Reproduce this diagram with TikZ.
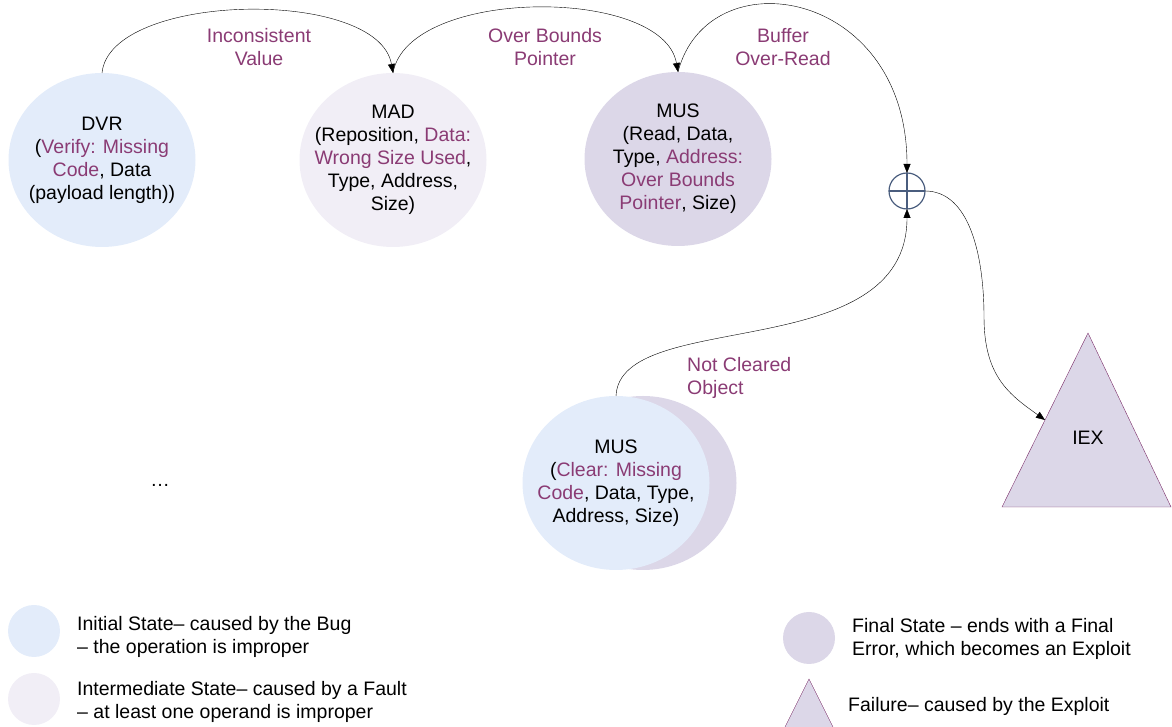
\documentclass[tikz,border=0pt]{standalone}
\usepackage{fontspec}
\setmainfont{Liberation Sans}
\usetikzlibrary{shapes.geometric,arrows.meta}
\definecolor{initfill}{HTML}{E3ECFA}
\definecolor{midfill}{HTML}{F1EEF6}
\definecolor{finfill}{HTML}{DCD7E8}
\definecolor{faultcol}{HTML}{8A3B74}
\definecolor{xorcol}{HTML}{4A5D7E}
\definecolor{failcol}{HTML}{7A2C68}
\newcommand{\flt}[1]{\textcolor{faultcol}{#1}}

\begin{document}
\begin{tikzpicture}[x=1pt,y=1pt, >={Triangle[length=9pt,width=7pt]},
  state/.style={ellipse,minimum width=187pt,minimum height=174pt,inner sep=0pt,outer sep=0pt},
  txt/.style={align=center,font=\fontsize{19.5}{23}\selectfont,inner sep=0pt},
  lbl/.style={txt,text=faultcol},
  key/.style={circle,minimum size=52pt,inner sep=0pt},
  keytxt/.style={align=left,anchor=west,font=\fontsize{19.5}{23}\selectfont,inner sep=0pt}]
\useasboundingbox (0,0) rectangle (1172,727);

% states
\node[state,fill=initfill] (dvr) at (102,567) {};
\node[txt] (dvr-t) at (dvr) {DVR\\(\flt{Verify: Missing}\\\flt{Code}, Data\\(payload length))};
\node[state,fill=midfill] (mad) at (393,567) {};
\node[txt] (mad-t) at (mad) {MAD\\(Reposition, \flt{Data:}\\\flt{Wrong Size Used},\\Type, Address,\\Size)};
\node[state,fill=finfill] (mus) at (678,568) {};
\node[txt] (mus-t) at (mus) {MUS\\(Read, Data,\\Type, \flt{Address:}\\\flt{Over Bounds}\\\flt{Pointer}, Size)};
\node[state,fill=finfill] (clr-b) at (643,244) {};
\node[state,fill=initfill] (clr) at (616,244) {};
\node[txt] (clr-t) at (clr) {MUS\\(\flt{Clear: Missing}\\\flt{Code}, Data, Type,\\Address, Size)};

\node[circle,draw=xorcol,line width=1.2pt,minimum size=36pt,inner sep=0pt,outer sep=0pt] (xor) at (907,536) {};
\draw[xorcol,line width=1.2pt] (xor.north) -- (xor.south) (xor.west) -- (xor.east);

% failure
\coordinate (iex-a) at (1088,394);
\coordinate (iex-l) at (1002,220);
\coordinate (iex-r) at (1171,220);
\coordinate (iex-in) at (1045,307);
\filldraw[fill=finfill,draw=failcol] (iex-a) -- (iex-l) -- (iex-r) -- cycle;
\node[txt] (iex) at (1088,289) {IEX};

\draw[->] (dvr.north) .. controls +(8,81) and +(-15,86) .. (mad.north);
\draw[->] (mad.north) .. controls +(15,86) and +(-15,86) .. (mus.north);
\draw[->] (mus.north) .. controls +(30,116) and +(0,185) .. (xor.north);
\draw[->] (clr.north) .. controls +(4,89) and +(0,-158) .. (xor.south);
\draw[->] (xor.east) .. controls +(45,0) and +(0,60) .. (984,410)
  .. controls +(0,-60) and +(-35,25) .. (iex-in);

\node[lbl] (l-incon) at (259,680) {Inconsistent\\Value};
\node[lbl] (l-obp) at (545,680) {Over Bounds\\Pointer};
\node[lbl] (l-bor) at (783,680) {Buffer\\Over-Read};
\node[lbl,anchor=west,align=left] (l-ncl) at (687,349) {Not Cleared\\Object};

\node[txt] (dots) at (160,242) {…};

% legend
\node[key,fill=initfill] (k-init) at (34,96) {};
\node[keytxt] (k-init-t) at (77,90.5) {Initial State– caused by the Bug\\– the operation is improper};
\node[key,fill=midfill] (k-mid) at (34,28) {};
\node[keytxt] (k-mid-t) at (77,25.5) {Intermediate State– caused by a Fault\\– at least one operand is improper};
\node[key,fill=finfill] (k-fin) at (809,89) {};
\node[keytxt] (k-fin-t) at (852,88) {Final State – ends with a Final\\Error, which becomes an Exploit};
\fill[finfill] (785,0) -- (809,48) -- (833,0) -- cycle;
\draw[failcol] (785,0) -- (809,48) -- (833,0);
\node[keytxt] (k-fail-t) at (848,21) {Failure– caused by the Exploit};
\end{tikzpicture}
\end{document}
